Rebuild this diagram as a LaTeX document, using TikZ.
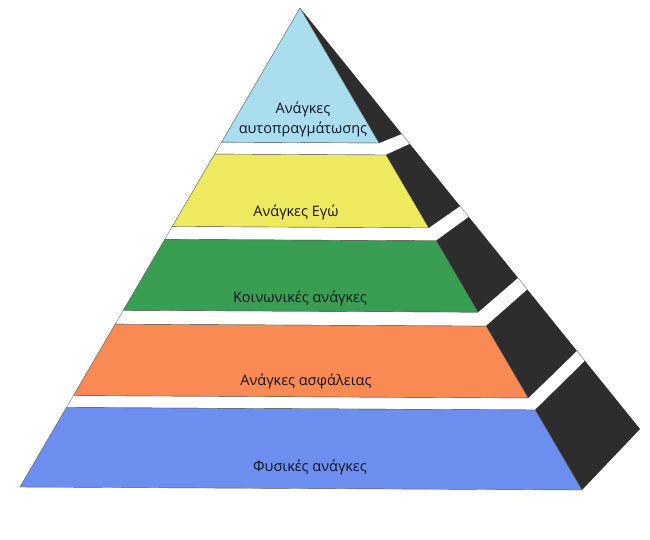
\documentclass[tikz,border=0pt]{standalone}
\usepackage{fontspec}
\setmainfont{Open Sans}
\usetikzlibrary{calc}
\definecolor{lblue}{RGB}{170,222,238}
\definecolor{yel}{RGB}{238,234,96}
\definecolor{grn}{RGB}{58,158,82}
\definecolor{org}{RGB}{250,138,84}
\definecolor{blu}{RGB}{108,142,238}
\definecolor{side}{RGB}{45,45,45}
\definecolor{ink}{RGB}{20,20,35}
\begin{document}
\begin{tikzpicture}[x=1pt,y=-1pt]
            \useasboundingbox[fill=white] (0,0) rectangle (650,539);
            \coordinate (apex) at (300,8);
            \coordinate (bapex) at (309,19);
            \coordinate (fl) at (20,487);
            \coordinate (fr) at (582,490);
            \coordinate (br) at (640,429);
            % white top faces between the blocks
            \foreach \b/\a in {0.280/0.305,0.456/0.483,0.631/0.660,0.809/0.834} {
                \draw[black!55,fill=white] ($(apex)!\b!(fl)$) -- ($(apex)!\b!(fr)$) -- ($(bapex)!\b!(br)$)
                    -- ($(bapex)!\a!(br)$) -- ($(apex)!\a!(fr)$) -- ($(apex)!\a!(fl)$) -- cycle;
            }
            % blocks: front face and dark side
            \foreach \a/\b/\c in {0/0.280/lblue,0.305/0.456/yel,0.483/0.631/grn,0.660/0.809/org,0.834/1/blu} {
                \fill[side] ($(apex)!\a!(fr)$) -- ($(bapex)!\a!(br)$) -- ($(bapex)!\b!(br)$) -- ($(apex)!\b!(fr)$) -- cycle;
                \draw[black!65,fill=\c] ($(apex)!\a!(fl)$) -- ($(apex)!\a!(fr)$) -- ($(apex)!\b!(fr)$) -- ($(apex)!\b!(fl)$) -- cycle;
            }
            \tikzset{lbl/.style={text=ink,font=\fontsize{14.5}{20}\selectfont,align=center,inner sep=0pt}}
            \node[lbl] (self) at (303,119) {Ανάγκες\\αυτοπραγμάτωσης};
            \node[lbl] (ego) at (296,212) {Ανάγκες Εγώ};
            \node[lbl] (soc) at (300,298) {Κοινωνικές ανάγκες};
            \node[lbl] (safe) at (306,381) {Ανάγκες ασφάλειας};
            \node[lbl] (phys) at (310,467) {Φυσικές ανάγκες};
        \end{tikzpicture}
\end{document}
